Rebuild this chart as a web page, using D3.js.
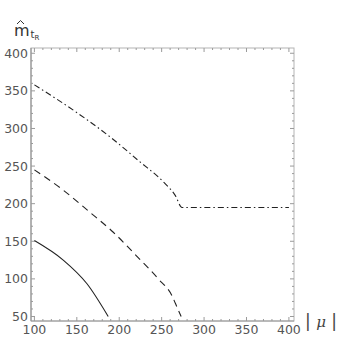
<!DOCTYPE html>
<html>
<head>
<meta charset="utf-8">
<script src="https://cdn.jsdelivr.net/npm/d3@7"></script>
<style>
  body { margin: 0; background: #fff; }
  svg { display: block; }
  text { font-family: "DejaVu Sans", sans-serif; }
</style>
</head>
<body>
<svg id="chart"></svg>
<script>
// datos
const solidX = [100, 134, 162, 187];
const solidY = [151, 125, 93.5, 50];

const dashedX = [100, 134, 165, 193, 220, 246, 262, 269, 273];
const dashedY = [245, 218, 189, 162, 131, 100, 78, 60, 50];

const dashDotX = [100, 154, 189, 224, 252, 266, 274, 400];
const dashDotY = [358, 318, 289, 256, 229, 211, 195, 195];

const xTicks = [100, 150, 200, 250, 300, 350, 400];
const yTicks = [50, 100, 150, 200, 250, 300, 350, 400];

const width = 346;
const height = 356;
const plotLeft = 31, plotRight = 294, plotTop = 48, plotBottom = 321;

const svg = d3.select("#chart")
    .attr("width", width)
    .attr("height", height);

const x = d3.scaleLinear().domain([96, 406]).range([plotLeft, plotRight]);
const y = d3.scaleLinear().domain([44, 407]).range([plotBottom, plotTop]);

const minorX = d3.range(100, 401, 10);
const minorY = d3.range(50, 401, 10);

// marco
svg.append("rect")
    .attr("x", plotLeft)
    .attr("y", plotTop)
    .attr("width", plotRight - plotLeft)
    .attr("height", plotBottom - plotTop)
    .attr("fill", "none")
    .attr("stroke", "#b4b4b4")
    .attr("stroke-width", 1);

// eje izquierdo y eje inferior un poco más oscuros
svg.append("line")
    .attr("x1", plotLeft).attr("x2", plotLeft)
    .attr("y1", plotTop).attr("y2", plotBottom)
    .attr("stroke", "#8a8a8a");
svg.append("line")
    .attr("x1", plotLeft).attr("x2", plotRight)
    .attr("y1", plotBottom).attr("y2", plotBottom)
    .attr("stroke", "#9a9a9a");

// marcas
const ticks = svg.append("g").attr("stroke", "#9a9a9a").attr("stroke-width", 1);

minorX.forEach(v => {
    const len = v % 50 === 0 ? 4 : 2;
    ticks.append("line").attr("x1", x(v)).attr("x2", x(v))
        .attr("y1", plotBottom).attr("y2", plotBottom - len);
    ticks.append("line").attr("x1", x(v)).attr("x2", x(v))
        .attr("y1", plotTop).attr("y2", plotTop + len);
});

minorY.forEach(v => {
    const len = v % 50 === 0 ? 4 : 2;
    ticks.append("line").attr("y1", y(v)).attr("y2", y(v))
        .attr("x1", plotLeft).attr("x2", plotLeft + len);
    ticks.append("line").attr("y1", y(v)).attr("y2", y(v))
        .attr("x1", plotRight).attr("x2", plotRight - len);
});

// etiquetas de los ejes
svg.selectAll("text.xlab")
    .data(xTicks)
    .enter().append("text")
    .attr("class", "xlab")
    .attr("x", d => x(d))
    .attr("y", plotBottom + 13)
    .attr("text-anchor", "middle")
    .attr("font-size", 12.5)
    .attr("fill", "#555")
    .text(d => d);

svg.selectAll("text.ylab")
    .data(yTicks)
    .enter().append("text")
    .attr("class", "ylab")
    .attr("x", plotLeft - 3)
    .attr("y", d => y(d) + 4.5)
    .attr("text-anchor", "end")
    .attr("font-size", 12.5)
    .attr("fill", "#555")
    .text(d => d);

// curvas
const line = d3.line()
    .x(d => x(d[0]))
    .y(d => y(d[1]))
    .curve(d3.curveMonotoneX);

const series = [
    { xs: solidX, ys: solidY, dash: null },
    { xs: dashedX, ys: dashedY, dash: "7,5" },
    { xs: dashDotX, ys: dashDotY, dash: "6,3,1.5,3" }
];

series.forEach(s => {
    svg.append("path")
        .attr("d", line(d3.zip(s.xs, s.ys)))
        .attr("fill", "none")
        .attr("stroke", "#222")
        .attr("stroke-width", 1.1)
        .attr("stroke-dasharray", s.dash);
});

// título del eje y: m con sombrero y subíndice t_R
const ylab = svg.append("g");
ylab.append("text")
    .attr("x", 14).attr("y", 36)
    .attr("fill", "#333")
    .attr("font-family", "DejaVu Serif, serif")
    .attr("font-size", 16)
    .html('m<tspan font-size="10" dx="1" dy="2">t</tspan><tspan font-size="7" dy="2">R</tspan>');
ylab.append("path")
    .attr("d", "M17,24 L20.5,20.5 L24,24")
    .attr("fill", "none")
    .attr("stroke", "#333")
    .attr("stroke-width", 1);

svg.append("text")
    .attr("x", 305).attr("y", 327)
    .attr("font-size", 17)
    .attr("fill", "#444")
    .html('| <tspan font-family="DejaVu Serif, serif" font-style="italic" font-size="15">μ</tspan> |');
</script>
</body>
</html>
